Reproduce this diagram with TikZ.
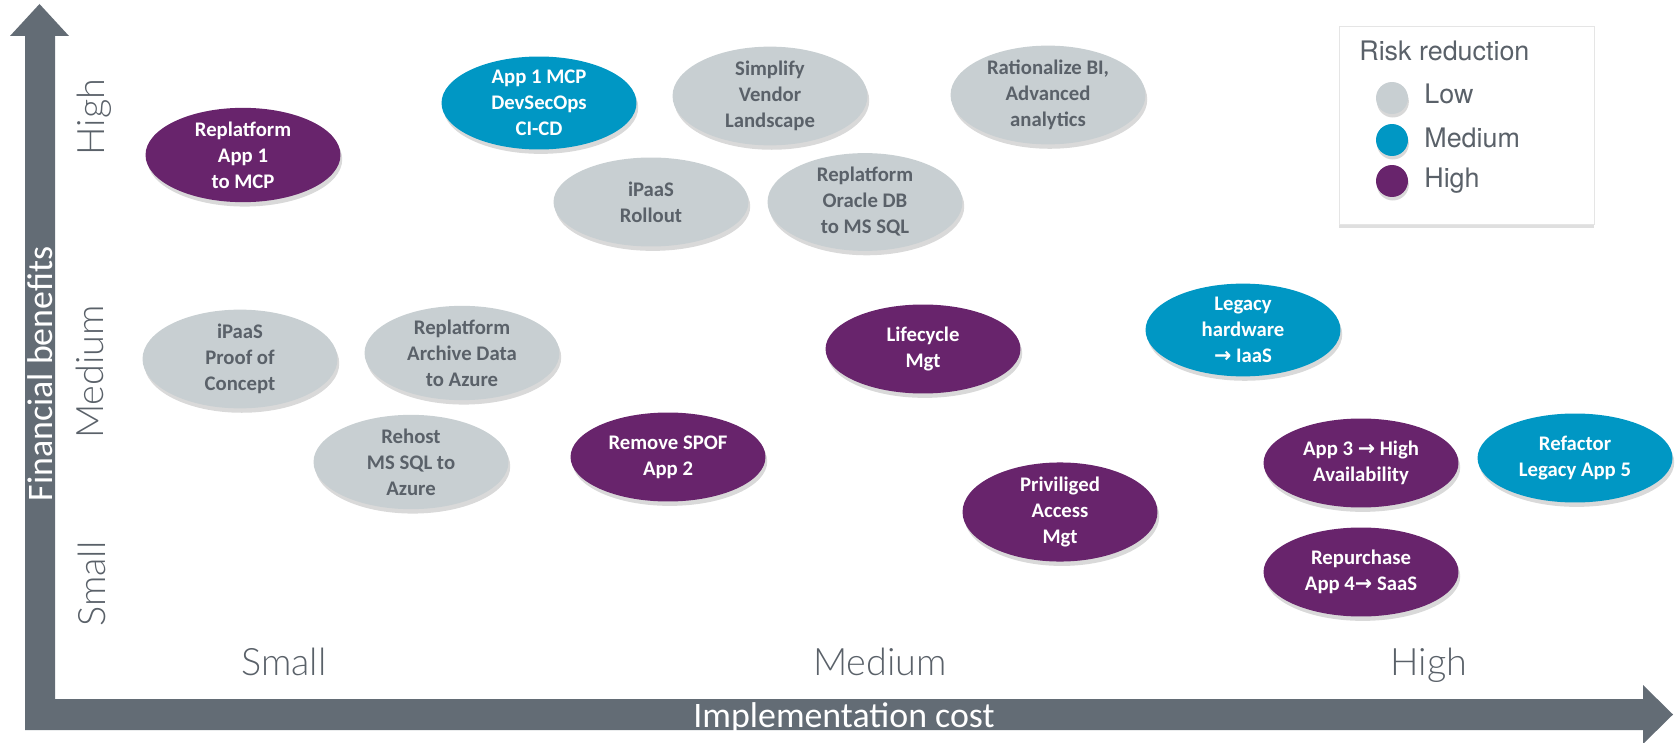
\documentclass[tikz,border=0pt]{standalone}
\usepackage{fontspec}
\setmainfont{Carlito}
\newfontfamily\thinfont{Lato Light}
\newfontfamily\legfont{TeX Gyre Heros}
\newfontfamily\symfont{DejaVu Sans}
\usetikzlibrary{shapes.geometric, shadows, positioning}

\definecolor{axisgray}{RGB}{99,108,117}
\definecolor{lowgray}{RGB}{200,207,210}
\definecolor{medblue}{RGB}{0,151,196}
\definecolor{highpurple}{RGB}{104,36,108}
\definecolor{txtgray}{RGB}{90,97,105}
\newcommand{\toarr}{{\symfont\char"2192}}

\begin{document}
\begin{tikzpicture}[x=0.02cm, y=-0.02cm,
  task/.style = {ellipse, minimum width=3.9cm, minimum height=1.78cm, inner sep=0pt, align=center,
    font=\fontsize{11.8}{14.8}\selectfont\bfseries,
    drop shadow={shadow xshift=1pt, shadow yshift=-2.5pt, opacity=.3}},
  low/.style = {task, fill=lowgray, text=txtgray},
  med/.style = {task, fill=medblue, text=white},
  high/.style = {task, fill=highpurple, text=white},
  tick/.style = {inner sep=0pt, text=txtgray, font=\thinfont\fontsize{21.5}{24}\selectfont},
  axistitle/.style = {inner sep=0pt, text=white, font=\fontsize{20.4}{24}\selectfont},
  legtext/.style = {inner sep=0pt, text=txtgray, font=\legfont\fontsize{15.3}{18}\selectfont},
  dot/.style = {circle, minimum size=0.64cm, inner sep=0pt,
    drop shadow={shadow xshift=.5pt, shadow yshift=-2pt, opacity=.3}}]

\useasboundingbox (0,0) rectangle (1680,743);

% axes
\fill[axisgray] (25,730) -- (25,36) -- (10,36) -- (39.5,4) -- (69,36) -- (55,36) -- (55,699)
  -- (1643,699) -- (1643,685) -- (1673,714.5) -- (1643,744) -- (1643,730) -- cycle;
\node[axistitle, rotate=90, anchor=base] (ytitle) at (52,374) {Financial benefits};
\node[axistitle, anchor=base] (xtitle) at (844,727) {Implementation cost};

\node[tick, rotate=90, anchor=base] (yhigh) at (104,117) {High};
\node[tick, rotate=90, anchor=base] (ymed) at (103,372) {Medium};
\node[tick, rotate=90, anchor=base] (ysmall) at (105,584) {Small};
\node[tick, anchor=base] (xsmall) at (284,675) {Small};
\node[tick, anchor=base] (xmed) at (880,675) {Medium};
\node[tick, anchor=base] (xhigh) at (1429,675) {High};

% initiatives
\node[high] (rep1) at (243,155) {Replatform\\App 1\\to MCP};
\node[med] (mcp) at (539,103) {App 1 MCP\\DevSecOps\\CI-CD};
\node[low] (vendor) at (770,96) {Simplify\\Vendor\\Landscape};
\node[low] (bi) at (1048,95) {Rationalize BI,\\Advanced\\analytics};
\node[low] (rollout) at (651,202) {iPaaS\\Rollout};
\node[low] (oracle) at (865,202) {Replatform\\Oracle DB\\to MS SQL};
\node[low] (poc) at (240,359) {iPaaS\\Proof of\\Concept};
\node[low] (archive) at (462,353) {Replatform\\Archive Data\\to Azure};
\node[low] (rehost) at (411,462) {Rehost\\MS SQL to\\Azure};
\node[high] (spof) at (668,457) {Remove SPOF\\App 2};
\node[high] (lifecycle) at (923,349) {Lifecycle\\Mgt};
\node[med] (legacy) at (1243,330) {Legacy\\hardware\\\toarr{} IaaS};
\node[high] (pam) at (1060,512) {Priviliged\\Access\\Mgt};
\node[high] (ha) at (1361,463) {App 3 \toarr{} High\\Availability};
\node[med] (refactor) at (1575,458) {Refactor\\Legacy App 5};
\node[high] (saas) at (1361,572) {Repurchase\\App 4\toarr{} SaaS};

% legend
\node[draw=black!10, fill=white, minimum width=5.1cm, minimum height=3.96cm,
  drop shadow={shadow xshift=0pt, shadow yshift=-2.5pt, opacity=.25}] (legend) at (1466.5,125) {};
\node[legtext, anchor=base west] (legtitle) at (1359,61) {Risk reduction};
\node[dot, fill=lowgray] (dlow) at (1392,98) {};
\node[dot, fill=medblue] (dmed) at (1392,140) {};
\node[dot, fill=highpurple] (dhigh) at (1392,181) {};
\node[legtext, anchor=base west] (llow) at (1424,104) {Low};
\node[legtext, anchor=base west] (lmed) at (1424,148) {Medium};
\node[legtext, anchor=base west] (lhigh) at (1424,188) {High};
\end{tikzpicture}
\end{document}
